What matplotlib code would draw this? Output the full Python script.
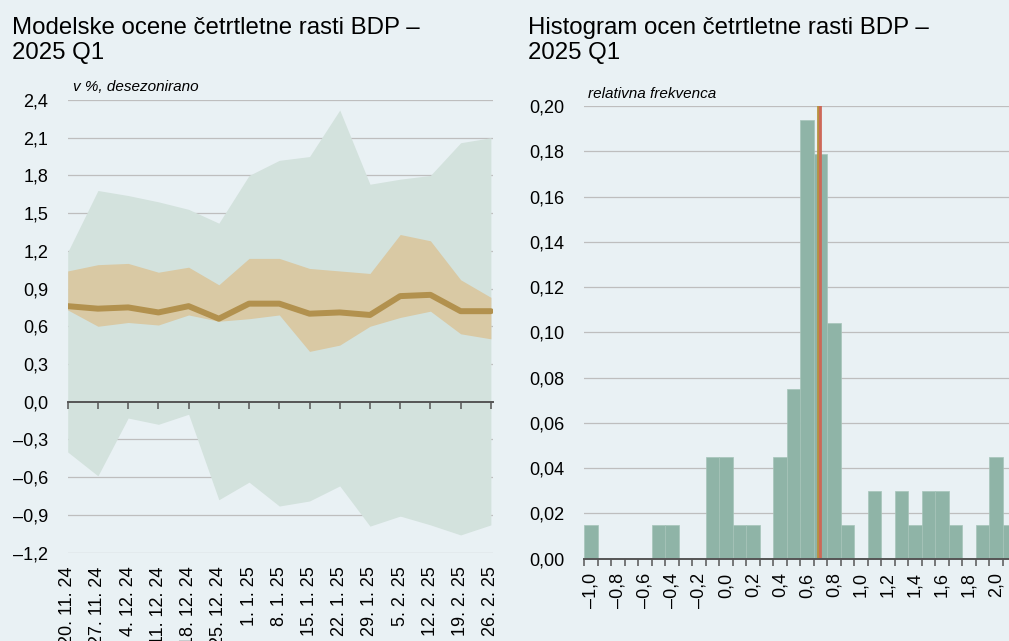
import matplotlib.pyplot as plt
import numpy as np

# left panel: weekly model estimates (% q/q, seasonally adjusted)
dates = ['20. 11. 24', '27. 11. 24', '4. 12. 24', '11. 12. 24', '18. 12. 24',
         '25. 12. 24', '1. 1. 25', '8. 1. 25', '15. 1. 25', '22. 1. 25',
         '29. 1. 25', '5. 2. 25', '12. 2. 25', '19. 2. 25', '26. 2. 25']
upper_wide = [1.19, 1.68, 1.64, 1.59, 1.53, 1.42, 1.80, 1.92, 1.95, 2.32,
              1.73, 1.77, 1.80, 2.06, 2.10]
lower_wide = [-0.40, -0.59, -0.13, -0.18, -0.10, -0.78, -0.64, -0.83, -0.79, -0.67,
              -0.99, -0.91, -0.98, -1.06, -0.98]
upper_narrow = [1.04, 1.09, 1.10, 1.03, 1.07, 0.93, 1.14, 1.14, 1.06, 1.04,
                1.02, 1.33, 1.28, 0.97, 0.83]
lower_narrow = [0.73, 0.60, 0.63, 0.61, 0.69, 0.64, 0.66, 0.69, 0.40, 0.45,
                0.60, 0.67, 0.72, 0.54, 0.50]
median_est = [0.76, 0.74, 0.75, 0.71, 0.76, 0.66, 0.78, 0.78, 0.70, 0.71,
              0.69, 0.84, 0.85, 0.72, 0.72]

# right panel: histogram of estimates
bin_centres = [-1.0, -0.9, -0.8, -0.7, -0.6, -0.5, -0.4, -0.3, -0.2, -0.1,
               0.0, 0.1, 0.2, 0.3, 0.4, 0.5, 0.6, 0.7, 0.8, 0.9,
               1.0, 1.1, 1.2, 1.3, 1.4, 1.5, 1.6, 1.7, 1.8, 1.9, 2.0, 2.1]
rel_freq = [0.015, 0, 0, 0, 0, 0.015, 0.015, 0, 0, 0.045,
            0.045, 0.015, 0.015, 0, 0.045, 0.075, 0.194, 0.179, 0.104, 0.015,
            0, 0.030, 0, 0.030, 0.015, 0.030, 0.030, 0.015, 0, 0.015, 0.045, 0.015]
mean_val = 0.68
median_val = 0.70

BG = '#E9F1F4'
GRID = '#BEBEBE'
AXIS = '#555555'

plt.rcParams['font.family'] = ['Liberation Sans', 'DejaVu Sans']


def sl_fmt(v, dec):
    s = f'{abs(v):.{dec}f}'.replace('.', ',')
    return '–' + s if v < -1e-9 else s


fig = plt.figure(figsize=(10.09, 6.41), dpi=100, facecolor=BG)

######
# LEFT
######
ax1 = fig.add_axes([0.0671, 0.138, 0.4212, 0.706], facecolor=BG)
x = np.arange(len(dates))
ax1.fill_between(x, lower_wide, upper_wide, color='#D3E2DD', lw=0, zorder=1)
ax1.fill_between(x, lower_narrow, upper_narrow, color='#D9C9A4', lw=0, zorder=2)
ax1.plot(x, median_est, color='#B2914E', lw=4.3, solid_capstyle='round',
         solid_joinstyle='round', zorder=3)

yt = [-1.2, -0.9, -0.6, -0.3, 0.0, 0.3, 0.6, 0.9, 1.2, 1.5, 1.8, 2.1, 2.4]
ax1.set_ylim(-1.2, 2.4)
ax1.set_yticks(yt)
ax1.set_yticklabels([sl_fmt(v, 1) for v in yt])
ax1.set_xlim(0, 14.06)
ax1.set_xticks(x)
ax1.set_xticklabels(dates, rotation=90, va='top', ha='center')
ax1.tick_params(axis='x', length=0, pad=10, labelsize=13)
ax1.tick_params(axis='y', length=0, pad=14, labelsize=13)
ax1.grid(axis='y', color=GRID, lw=0.9, zorder=0)
ax1.set_axisbelow(True)
for s in ax1.spines.values():
    s.set_visible(False)

# zero line with tick marks
sec = ax1.secondary_xaxis(1.2 / 3.6)
sec.set_zorder(10)
sec.set_xticks(x)
sec.set_xticklabels([])
sec.tick_params(length=5, width=1.1, color=AXIS, direction='out')
sec.spines['bottom'].set_color(AXIS)
sec.spines['bottom'].set_linewidth(1.4)

#######
# RIGHT
#######
ax2 = fig.add_axes([0.5788, 0.1287, 0.4212, 0.7059], facecolor=BG)
ax2.bar(bin_centres, rel_freq, width=0.1, color='#8FB4A7', edgecolor='#A6C4B9',
        linewidth=0.5, zorder=2)
ax2.axvline(mean_val, color='#B89140', lw=2.0, zorder=3)
ax2.axvline(median_val, color='#CD6858', lw=2.0, zorder=3)

ax2.set_xlim(-1.05, 2.098)
ax2.set_ylim(0, 0.20)
yt2 = [0.0, 0.02, 0.04, 0.06, 0.08, 0.10, 0.12, 0.14, 0.16, 0.18, 0.20]
ax2.set_yticks(yt2)
ax2.set_yticklabels([sl_fmt(v, 2) for v in yt2])
xlab = bin_centres[::2]
ax2.set_xticks(xlab)
ax2.set_xticklabels([sl_fmt(v, 1) for v in xlab], rotation=90, va='top', ha='center')
ax2.set_xticks([c - 0.05 for c in bin_centres], minor=True)
ax2.tick_params(axis='x', which='major', length=0, pad=10, labelsize=13)
ax2.tick_params(axis='x', which='minor', length=5, width=1.1, color=AXIS)
ax2.tick_params(axis='y', length=0, pad=14, labelsize=13)
ax2.grid(axis='y', color=GRID, lw=0.9, zorder=0)
ax2.set_axisbelow(True)
for k, s in ax2.spines.items():
    s.set_visible(k == 'bottom')
ax2.spines['bottom'].set_color(AXIS)
ax2.spines['bottom'].set_linewidth(1.4)
ax2.spines['bottom'].set_zorder(4)

# titles
fig.text(12 / 1009, 1 - 59.3 / 641, 'Modelske ocene četrtletne rasti BDP –\n2025 Q1',
         fontsize=17.3, va='baseline', ha='left', linespacing=1.2)
fig.text(528 / 1009, 1 - 59.3 / 641, 'Histogram ocen četrtletne rasti BDP –\n2025 Q1',
         fontsize=17.3, va='baseline', ha='left', linespacing=1.2)
fig.text(73 / 1009, 1 - 91 / 641, 'v %, desezonirano', style='italic',
         fontsize=11, va='baseline', ha='left')
fig.text(588 / 1009, 1 - 98 / 641, 'relativna frekvenca', style='italic',
         fontsize=11, va='baseline', ha='left')

fig.savefig('out.png', dpi=100, facecolor=BG)
